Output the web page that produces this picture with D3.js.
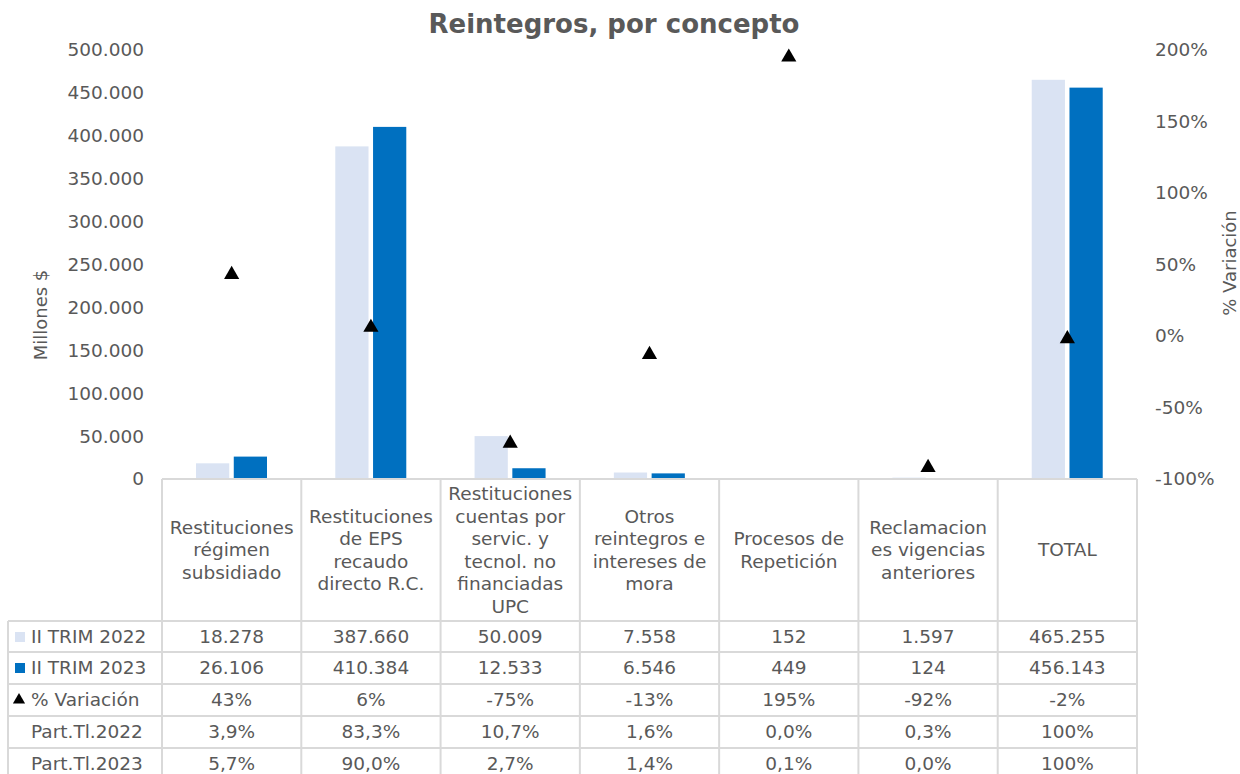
<!DOCTYPE html>
<html>
<head>
<meta charset="utf-8">
<script src="https://cdn.jsdelivr.net/npm/d3@7/dist/d3.min.js"></script>
<style>
  html, body { margin: 0; padding: 0; background: #fff; }
  svg { display: block; font-family: "DejaVu Sans", Verdana, sans-serif; }
</style>
</head>
<body>
<svg id="chart" width="1240" height="774"></svg>
<script>
// Categories (table header lines)
const categories = [
  ["Restituciones", "régimen", "subsidiado"],
  ["Restituciones", "de EPS", "recaudo", "directo R.C."],
  ["Restituciones", "cuentas por", "servic. y", "tecnol. no", "financiadas", "UPC"],
  ["Otros", "reintegros e", "intereses de", "mora"],
  ["Procesos de", "Repetición"],
  ["Reclamacion", "es vigencias", "anteriores"],
  ["TOTAL"]
];
// Millones $
const trim2022 = [18278, 387660, 50009, 7558, 152, 1597, 465255];
const trim2023 = [26106, 410384, 12533, 6546, 449, 124, 456143];
// % Variación
const variacion = [43, 6, -75, -13, 195, -92, -2];
// Participación en el total (%)
const part2022 = [3.9, 83.3, 10.7, 1.6, 0.0, 0.3, 100];
const part2023 = [5.7, 90.0, 2.7, 1.4, 0.1, 0.0, 100];

const leftTicks = [0, 50000, 100000, 150000, 200000, 250000, 300000, 350000, 400000, 450000, 500000];
const rightTicks = [-100, -50, 0, 50, 100, 150, 200];

const seriesNames = ["II TRIM 2022", "II TRIM 2023"];
const colors = ["#dae3f3", "#0070c0"];

const locale = d3.formatLocale({ decimal: ",", thousands: ".", grouping: [3], currency: ["$", ""], minus: "-" });
const fmtInt = locale.format(",d");
const fmtPct1 = v => (v === 100 ? "100" : locale.format(".1f")(v)) + "%";
const fmtPct0 = v => locale.format("d")(v) + "%";

const svg = d3.select("#chart");
const textColor = "#595959";
const gridColor = "#d9d9d9";
const fontSize = 18.5;

const plot = { left: 162, right: 1137, top: 50, bottom: 479 };
const idx = d3.range(categories.length);

const x = d3.scaleBand().domain(idx).range([plot.left, plot.right]).paddingInner(0).paddingOuter(0);
const xs = d3.scaleBand().domain([0, 1]).range([34, 105]).paddingInner(0.12);
const yL = d3.scaleLinear().domain([0, 500000]).range([plot.bottom, plot.top]);
const yR = d3.scaleLinear().domain([-100, 200]).range([plot.bottom, plot.top]);

// Title
svg.append("text")
  .attr("x", 614).attr("y", 33)
  .attr("text-anchor", "middle")
  .attr("font-size", 26).attr("font-weight", "bold")
  .attr("fill", textColor)
  .text("Reintegros, por concepto");

// Left axis
const axL = d3.axisLeft(yL).tickValues(leftTicks).tickSize(0).tickPadding(0).tickFormat(fmtInt);
const gL = svg.append("g").attr("transform", `translate(144,0)`).call(axL);
gL.select(".domain").remove();
gL.selectAll("text").attr("font-size", fontSize).attr("fill", textColor).attr("font-family", "DejaVu Sans, Verdana, sans-serif");

// Right axis
const axR = d3.axisRight(yR).tickValues(rightTicks).tickSize(0).tickPadding(0).tickFormat(fmtPct0);
const gR = svg.append("g").attr("transform", `translate(1155,0)`).call(axR);
gR.select(".domain").remove();
gR.selectAll("text").attr("font-size", fontSize).attr("fill", textColor).attr("font-family", "DejaVu Sans, Verdana, sans-serif");

// Axis titles
svg.append("text")
  .attr("transform", "translate(47,315) rotate(-90)")
  .attr("text-anchor", "middle").attr("font-size", 18).attr("fill", textColor)
  .text("Millones $");
svg.append("text")
  .attr("transform", "translate(1236,263) rotate(-90)")
  .attr("text-anchor", "middle").attr("font-size", 18).attr("fill", textColor)
  .text("% Variación");

// Bars
const series = [trim2022, trim2023];
series.forEach((vals, s) => {
  svg.append("g").selectAll("rect")
    .data(idx)
    .join("rect")
    .attr("x", i => x(i) + xs(s))
    .attr("width", xs.bandwidth())
    .attr("y", i => yL(vals[i]))
    .attr("height", i => yL(0) - yL(vals[i]))
    .attr("fill", colors[s]);
});

// Variation markers
const tri = d3.symbol().type(d3.symbolTriangle).size(100);
svg.append("g").selectAll("path")
  .data(idx)
  .join("path")
  .attr("d", tri)
  .attr("transform", i => `translate(${x(i) + x.bandwidth() / 2},${yR(variacion[i])})`)
  .attr("fill", "#000");

// Data table
const headerTop = plot.bottom;
const rowTops = [621, 652, 684, 716, 748];
const rowH = 32;
const tableLeft = 8;
const lineH = 22.5;

const grid = svg.append("g").attr("stroke", gridColor).attr("stroke-width", 2).attr("fill", "none");
// top border of header
grid.append("line").attr("x1", plot.left).attr("x2", plot.right).attr("y1", headerTop).attr("y2", headerTop);
// vertical lines for category columns
d3.range(categories.length + 1).forEach(k => {
  const xx = k < categories.length ? x(k) : plot.right;
  grid.append("line").attr("x1", xx).attr("x2", xx).attr("y1", headerTop).attr("y2", 790);
});
// left border of row label column
grid.append("line").attr("x1", tableLeft).attr("x2", tableLeft).attr("y1", rowTops[0]).attr("y2", 790);
// horizontal row lines
rowTops.forEach(t => {
  grid.append("line").attr("x1", tableLeft).attr("x2", plot.right).attr("y1", t).attr("y2", t);
});

// Header labels
const hdr = svg.append("g").attr("fill", textColor).attr("font-size", fontSize).attr("text-anchor", "middle");
categories.forEach((lines, i) => {
  const cx = x(i) + x.bandwidth() / 2;
  const cy = (headerTop + rowTops[0]) / 2;
  const startY = cy - (lines.length - 1) * lineH / 2;
  const t = hdr.append("text").attr("x", cx).attr("y", startY).attr("dy", "0.35em");
  lines.forEach((ln, j) => {
    t.append("tspan").attr("x", cx).attr("y", startY + j * lineH).attr("dy", "0.35em").text(ln);
  });
});

// Table rows
const rows = [
  { label: seriesNames[0], key: "square", color: colors[0], values: trim2022.map(fmtInt) },
  { label: seriesNames[1], key: "square", color: colors[1], values: trim2023.map(fmtInt) },
  { label: "% Variación", key: "triangle", color: "#000", values: variacion.map(fmtPct0) },
  { label: "Part.Tl.2022", key: null, values: part2022.map(fmtPct1) },
  { label: "Part.Tl.2023", key: null, values: part2023.map(fmtPct1) }
];

const body = svg.append("g").attr("fill", textColor).attr("font-size", fontSize);
rows.forEach((r, k) => {
  const cy = rowTops[k] + rowH / 2;
  if (r.key === "square") {
    svg.append("rect").attr("x", 15).attr("y", cy - 5).attr("width", 10).attr("height", 10).attr("fill", r.color);
  } else if (r.key === "triangle") {
    svg.append("path").attr("d", d3.symbol().type(d3.symbolTriangle).size(64))
      .attr("transform", `translate(19,${cy})`).attr("fill", r.color);
  }
  body.append("text").attr("x", 31).attr("y", cy).attr("dy", "0.35em").text(r.label);
  r.values.forEach((v, i) => {
    body.append("text")
      .attr("x", x(i) + x.bandwidth() / 2).attr("y", cy).attr("dy", "0.35em")
      .attr("text-anchor", "middle").text(v);
  });
});
</script>
</body>
</html>
